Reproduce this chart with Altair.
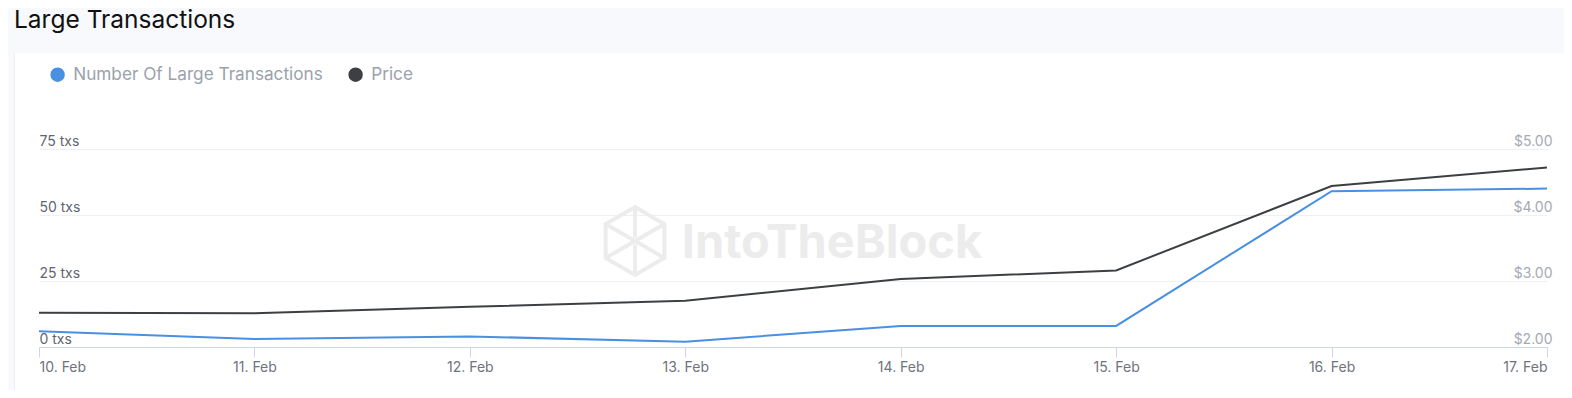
import altair as alt
import pandas as pd

# ---- data ----
dates = ["10. Feb", "11. Feb", "12. Feb", "13. Feb", "14. Feb", "15. Feb", "16. Feb", "17. Feb"]
large_tx = [6, 3, 4, 2, 8, 8, 59, 60]
price = [2.52, 2.51, 2.61, 2.70, 3.03, 3.16, 4.44, 4.72]
series = ["Number Of Large Transactions", "Price"]
colors = ["#4a90e2", "#3d4043"]
tx_ticks = [0, 25, 50, 75]
price_ticks = [2, 3, 4, 5]

df_tx = pd.DataFrame({"date": dates, "tx": large_tx, "series": series[0]})
df_price = pd.DataFrame({"date": dates, "price": price, "series": series[1]})
one = pd.DataFrame({"k": [0]})

W, H = 1508, 198
FONT = "Inter"

x_enc = alt.X(
    "date:O", sort=dates,
    scale=alt.Scale(type="point", padding=0),
    axis=alt.Axis(title=None, labelAngle=0, labelFlush=True, grid=False,
                  domainColor="#ccd6eb", tickColor="#ccd6eb", tickSize=10,
                  labelPadding=3, labelFontSize=14, labelColor="#6e747c",
                  labelFont=FONT),
)

color_enc = alt.Color(
    "series:N",
    scale=alt.Scale(domain=series, range=colors),
    legend=alt.Legend(title=None, orient="none", legendX=10, legendY=-83,
                      direction="horizontal", symbolType="circle", symbolSize=154,
                      symbolFillColor=alt.ExprRef("scale('color', datum.value)"),
                      symbolStrokeWidth=0,
                      labelFontSize=17.2, labelColor="#9aa2ab",
                      labelFont=FONT, labelOffset=7, columnPadding=22, padding=0,
                      labelLimit=0, symbolOpacity=1),
)

blue = alt.Chart(df_tx).mark_line().encode(
    x=x_enc,
    y=alt.Y("tx:Q", scale=alt.Scale(domain=[0, 75], nice=False),
            axis=alt.Axis(title=None, values=tx_ticks, labelExpr="datum.value + ' txs'",
                          orient="left", ticks=False, tickSize=0, domain=False,
                          labelAlign="left", labelBaseline="bottom", labelPadding=0,
                          labelOffset=-1, grid=True, gridColor="#eef0f3",
                          labelFontSize=14, labelColor="#5f6670", labelFont=FONT)),
    color=color_enc,
)

black = alt.Chart(df_price).mark_line().encode(
    x=x_enc,
    y=alt.Y("price:Q", scale=alt.Scale(domain=[2, 5], nice=False, zero=False),
            axis=alt.Axis(title=None, values=price_ticks, format="$.2f",
                          orient="right", ticks=False, tickSize=0, domain=False,
                          labelAlign="right", labelBaseline="bottom", labelPadding=5,
                          labelOffset=-1, grid=False,
                          labelFontSize=14, labelColor="#a3aab3", labelFont=FONT)),
    color=color_enc,
)

# ---- page decoration (card background, title, watermark) ----
BG = "#f8f9fc"
top_band = alt.Chart(one).mark_rect(color=BG).encode(
    x=alt.value(-45), x2=alt.value(W + 30), y=alt.value(-150), y2=alt.value(-96))
left_band = alt.Chart(one).mark_rect(color=BG).encode(
    x=alt.value(-45), x2=alt.value(-25), y=alt.value(-96), y2=alt.value(H + 60))
card_edge = alt.Chart(one).mark_rule(color="#eceef3", strokeWidth=1).encode(
    x=alt.value(-24.5), y=alt.value(-96), y2=alt.value(H + 60))

title = alt.Chart(one).mark_text(text="Large Transactions", align="left",
                                 baseline="alphabetic", fontSize=24.5, font=FONT,
                                 color="#111111").encode(
    x=alt.value(-25), y=alt.value(-121.5))

wm_text = alt.Chart(one).mark_text(text="IntoTheBlock", align="center",
                                   baseline="alphabetic", fontSize=47, font=FONT,
                                   fontWeight="bold", color="#ececec").encode(
    x=alt.value(793), y=alt.value(109))
hex_path = ("M0,-1L0.866,-0.5L0.866,0.5L0,1L-0.866,0.5L-0.866,-0.5Z"
            "M-0.866,-0.5L0.866,0.5M-0.866,0.5L0.866,-0.5M0,-1L0,-0.1M0,1L0,0.1")
wm_logo = alt.Chart(one).mark_point(shape=hex_path, filled=False, size=4600,
                                    strokeWidth=4, color="#ececec", opacity=1).encode(
    x=alt.value(596), y=alt.value(92))

chart = alt.layer(
    top_band, left_band, card_edge, title, wm_logo, wm_text, black, blue
).resolve_scale(y="independent").properties(
    width=W, height=H,
    autosize=alt.AutoSizeParams(type="none"),
    padding={"left": 31, "top": 141, "right": 17, "bottom": 43},
    background="white",
).configure_view(stroke=None).configure_line(strokeWidth=2)

chart.save("out.html", embed_options={"renderer": "svg", "actions": False})
